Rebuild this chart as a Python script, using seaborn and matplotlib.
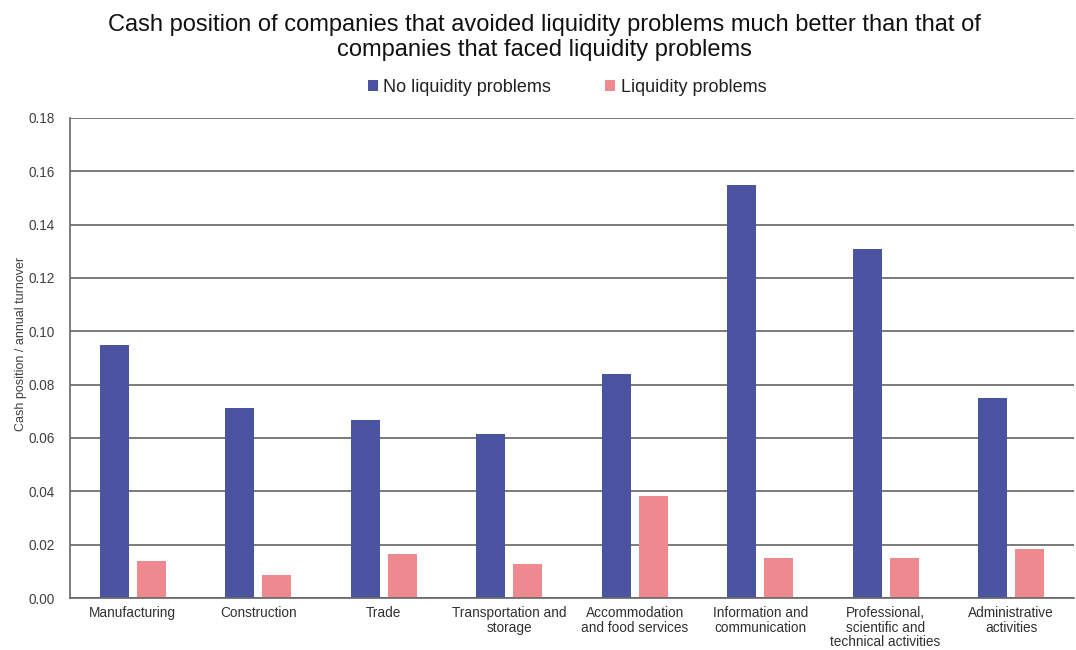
import matplotlib
matplotlib.use("Agg")
import matplotlib.pyplot as plt
import seaborn as sns
import pandas as pd
from matplotlib.patches import Patch

categories = ["Manufacturing", "Construction", "Trade", "Transportation and\nstorage",
              "Accommodation\nand food services", "Information and\ncommunication",
              "Professional,\nscientific and\ntechnical activities", "Administrative\nactivities"]
no_liquidity = [0.095, 0.0712, 0.0667, 0.0615, 0.084, 0.155, 0.131, 0.075]
liquidity = [0.0139, 0.0086, 0.0165, 0.0127, 0.0382, 0.015, 0.015, 0.0184]
series_names = ["No liquidity problems", "Liquidity problems"]
colors = ["#4A54A1", "#EE8A8F"]
yticks = [0.00, 0.02, 0.04, 0.06, 0.08, 0.10, 0.12, 0.14, 0.16, 0.18]

df = pd.DataFrame({
    "category": categories * 2,
    "value": no_liquidity + liquidity,
    "series": [series_names[0]] * len(categories) + [series_names[1]] * len(categories),
})

sns.set_theme(style="white")
plt.rcParams['font.family'] = ['Liberation Sans', 'DejaVu Sans']

fig = plt.figure(figsize=(10.76, 6.5), dpi=100)
ax = fig.add_axes([0.065, 0.08, 0.933, 0.7385])

sns.barplot(data=df, x="category", y="value", hue="series", palette=colors, saturation=1,
            width=0.59, gap=0.22, ax=ax, legend=False, edgecolor="none", linewidth=0)

ax.set_ylim(0, 0.18)
ax.set_xlim(-0.5, len(categories) - 0.5)
ax.set_yticks(yticks)
ax.set_yticklabels([f"{v:.2f}" for v in yticks], fontsize=9.8, color="#404040")
ax.tick_params(axis="x", labelsize=9.8, colors="#303030", length=0, pad=6)
ax.tick_params(axis="y", length=0, pad=11)
for t in ax.get_xticklabels():
    t.set_linespacing(1.05)
ax.set_xlabel("")
ax.set_ylabel("Cash position / annual turnover", fontsize=9, color="#404040")
ax.yaxis.set_label_coords(-0.043, 0.53)
ax.yaxis.grid(True, color="#7a7a7a", linewidth=1.4)
ax.set_axisbelow(True)
for s in ["top", "right"]:
    ax.spines[s].set_visible(False)
for s in ["left", "bottom"]:
    ax.spines[s].set_color("#666666")
    ax.spines[s].set_linewidth(1.2)

fig.suptitle("Cash position of companies that avoided liquidity problems much better than that of\n"
             "companies that faced liquidity problems", x=0.506, y=0.979, va="top",
             fontsize=17, color="#111111", linespacing=1.2)

handles = [Patch(facecolor=c, edgecolor="none") for c in colors]
fig.legend(handles, series_names, loc="center", bbox_to_anchor=(0.527, 0.865), ncol=2,
           frameon=False, fontsize=13, handlelength=0.55, handleheight=0.55,
           handletextpad=0.3, columnspacing=3.0, labelcolor="#222222")

fig.savefig("out.png", dpi=100)
